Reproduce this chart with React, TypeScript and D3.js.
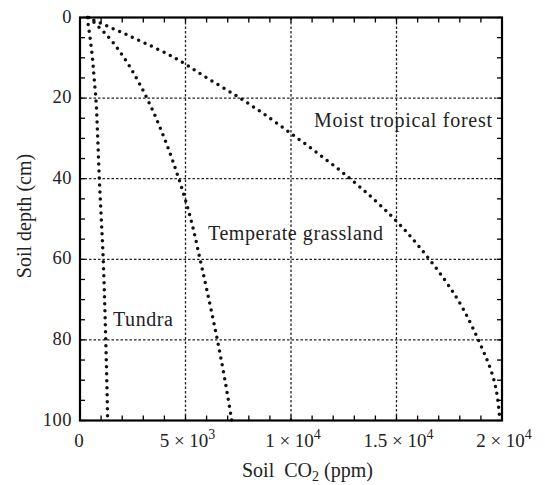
import React from "react";
import * as d3 from "d3";

const depths = [0, 5, 10, 15, 20, 30, 40, 50, 60, 70, 80, 90, 100];
const tundra = [340, 475, 590, 668, 750, 840, 915, 1010, 1100, 1165, 1220, 1270, 1310];
const grassland = [420, 1374, 2090, 2670, 3170, 4000, 4680, 5250, 5690, 6110, 6510, 6870, 7190];
const forest = [350, 2520, 4480, 6020, 7583, 10320, 12800, 14900, 16555, 17900, 18880, 19620, 19900];

const seriesNames = ["Tundra", "Temperate grassland", "Moist tropical forest"];
const xTickValues = [0, 5000, 10000, 15000, 20000];
const xTickMant = ["0", "5 × 10", "1 × 10", "1.5 × 10", "2 × 10"];
const xTickExp = ["", "3", "4", "4", "4"];
const yTickValues = [0, 20, 40, 60, 80, 100];

const W = 545;
const H = 485;
const font = "Liberation Serif";

export default function App() {
  const x = d3.scaleLinear().domain([0, 20000]).range([80, 502]);
  const y = d3.scaleLinear().domain([0, 100]).range([17.5, 420.5]);

  const line = d3
    .line<[number, number]>()
    .x((d) => x(d[0]))
    .y((d) => y(d[1]))
    .curve(d3.curveMonotoneY);

  const series = [tundra, grassland, forest];
  const minorX = d3.range(0, 20001, 1000);
  const minorY = d3.range(0, 101, 5);
  const [x0, x1] = x.range();
  const [y0, y1] = y.range();
  const tl = 5;

  const labelPos = [
    { x: 113, y: 326, len: 60 },
    { x: 208, y: 240, len: 175 },
    { x: 314, y: 127, len: 178 },
  ];
  const ts = { fontFamily: font };

  return (
    <svg
      width={W}
      height={H}
      style={{ position: "absolute", left: 0, top: 0, background: "#fff", fontFamily: font }}
    >
      {xTickValues.slice(1, -1).map((v) => (
        <line key={"gx" + v} x1={x(v)} x2={x(v)} y1={y0} y2={y1} stroke="#222" strokeWidth={1.3} strokeDasharray="2.5 2" />
      ))}
      {yTickValues.slice(1, -1).map((v) => (
        <line key={"gy" + v} x1={x0} x2={x1} y1={y(v)} y2={y(v)} stroke="#222" strokeWidth={1.3} strokeDasharray="2.5 2" />
      ))}

      {series.map((s, i) => (
        <path
          key={seriesNames[i]}
          d={line(depths.map((dp, j) => [s[j], dp]) as [number, number][]) || ""}
          fill="none"
          stroke="#111"
          strokeWidth={3.5}
          strokeLinecap="round"
          strokeDasharray="0 7"
        />
      ))}

      {minorX.map((v) => (
        <g key={"tx" + v}>
          <line x1={x(v)} x2={x(v)} y1={y1} y2={y1 - tl} stroke="#000" strokeWidth={1.3} />
          <line x1={x(v)} x2={x(v)} y1={y0} y2={y0 + tl} stroke="#000" strokeWidth={1.3} />
        </g>
      ))}
      {minorY.map((v) => (
        <g key={"ty" + v}>
          <line x1={x0} x2={x0 + tl} y1={y(v)} y2={y(v)} stroke="#000" strokeWidth={1.3} />
          <line x1={x1} x2={x1 - tl} y1={y(v)} y2={y(v)} stroke="#000" strokeWidth={1.3} />
        </g>
      ))}

      <rect x={x0} y={y0} width={x1 - x0} height={y1 - y0} fill="none" stroke="#000" strokeWidth={2.2} />

      {yTickValues.map((v) => (
        <text key={"ly" + v} style={ts} x={72} y={y(v) + 5} textAnchor="end" fontSize={18.5} letterSpacing={0.5} fill="#222">
          {v}
        </text>
      ))}

      {xTickValues.map((v, i) => (
        <text key={"lx" + v} style={ts} x={x(v) + (i === 0 ? -1 : 2)} y={446.5} textAnchor="middle" fontSize={19} fill="#222">
          {xTickMant[i]}
          {xTickExp[i] && (
            <tspan dy={-7.5} fontSize={14}>
              {xTickExp[i]}
            </tspan>
          )}
        </text>
      ))}

      <text style={ts} x={242} y={476.5} fontSize={20} fill="#222">
        Soil{"\u00a0\u00a0"}CO
        <tspan dy={4} fontSize={14}>2</tspan>
        <tspan dy={-4}> (ppm)</tspan>
      </text>
      <text style={ts} transform="translate(31,216) rotate(-90)" textAnchor="middle" fontSize={20} fill="#222">
        Soil depth (cm)
      </text>

      {seriesNames.map((n, i) => (
        <text
          key={"n" + n}
          style={ts}
          x={labelPos[i].x}
          y={labelPos[i].y}
          fontSize={20}
          fill="#222"
          textLength={labelPos[i].len}
          lengthAdjust="spacing"
        >
          {n}
        </text>
      ))}
    </svg>
  );
}
